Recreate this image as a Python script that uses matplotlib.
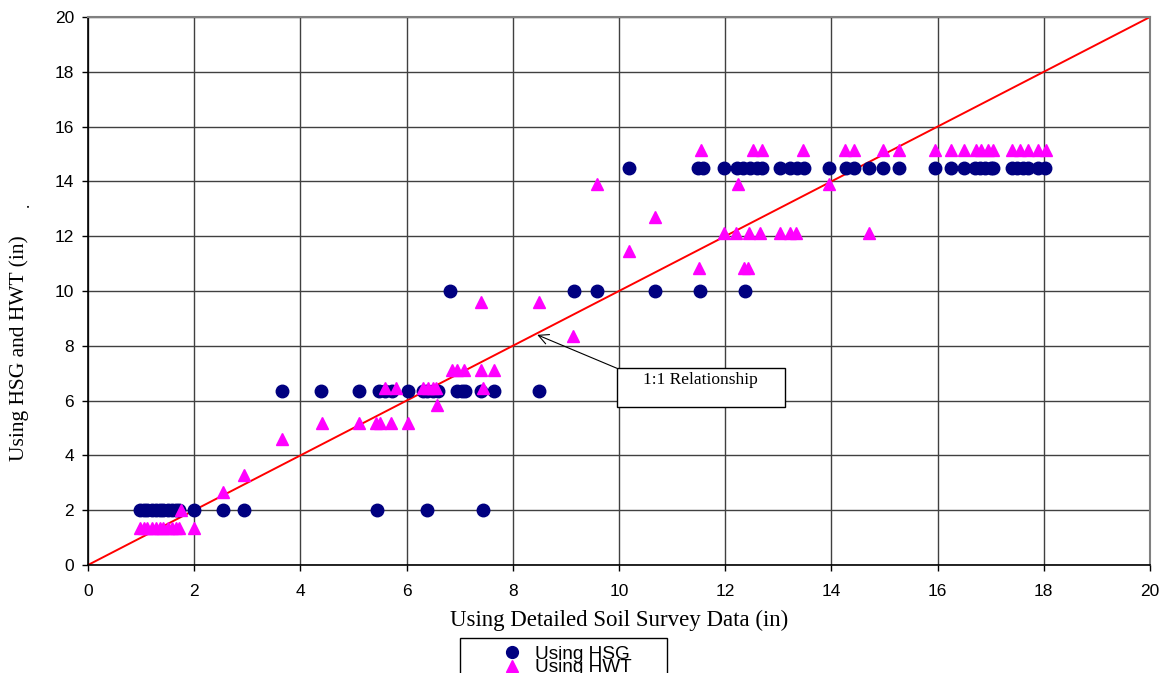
import numpy as np
import matplotlib
matplotlib.use("Agg")
import matplotlib.pyplot as plt
from matplotlib.patches import Rectangle
from matplotlib.lines import Line2D

# ── Data ────────────────────────────────────────────────────────────────
# Using HSG (circles): x = detailed soil survey, y = HSG estimate
hsg_x = [0.98, 1.05, 1.12, 1.2, 1.28, 1.35, 1.42, 1.5, 1.58, 1.65, 1.72,
         2.0, 2.54, 2.94, 5.44, 6.38, 7.43,
         3.65, 4.39, 5.1, 5.48, 5.6, 5.72, 6.02, 6.3, 6.38, 6.5, 6.6,
         6.95, 7.05, 7.1, 7.4, 7.65, 8.5,
         6.82, 9.15, 9.58, 10.68, 11.53, 12.38,
         10.19, 11.48, 11.58, 11.98, 12.22, 12.34, 12.47, 12.59, 12.69,
         13.03, 13.22, 13.35, 13.48, 13.96, 14.28, 14.43, 14.71, 14.98,
         15.27, 15.96, 16.25, 16.5, 16.7, 16.8, 16.9, 17.0, 17.05, 17.4,
         17.5, 17.6, 17.7, 17.9, 18.02]
hsg_y = [2.0] * 17 + [6.35] * 17 + [10.0] * 6 + [14.5] * 33

# Using HWT (triangles)
hwt_x = [0.98, 1.05, 1.12, 1.2, 1.28, 1.35, 1.42, 1.5, 1.58, 1.65, 1.72, 2.0,
         1.76, 2.54, 2.94, 3.65,
         4.4, 5.1, 5.42, 5.5, 5.7, 6.02,
         6.58,
         5.6, 5.8, 6.3, 6.4, 6.5, 6.55, 7.43,
         6.85, 6.95, 7.08, 7.4, 7.65,
         9.14,
         7.4, 8.5,
         11.51, 12.36, 12.42,
         10.19,
         11.98, 12.2, 12.45, 12.66, 13.03, 13.22, 13.33, 14.71,
         10.68,
         9.58, 12.25, 13.96,
         11.54, 12.53, 12.69, 13.47, 14.26, 14.43, 14.98, 15.27, 15.96,
         16.25, 16.5, 16.72, 16.82, 16.95, 17.05, 17.4, 17.55, 17.7, 17.9,
         18.05]
hwt_y = ([1.35] * 12 + [2.0, 2.65, 3.3, 4.6] + [5.2] * 6 + [5.85]
         + [6.45] * 7 + [7.1] * 5 + [8.35] + [9.6] * 2 + [10.85] * 3
         + [11.45] + [12.1] * 8 + [12.7] + [13.9] * 3 + [15.15] * 20)

one_to_one = [0, 20]
ticks = np.arange(0, 21, 2)

NAVY = "#000080"
MAGENTA = "#ff00ff"
GRID = "#404040"
W, H = 1171, 673

fig = plt.figure(figsize=(W / 100, H / 100), dpi=100, facecolor="white")
ax = fig.add_axes([88 / W, 1 - 565 / H, 1062 / W, 548 / H])

ax.plot(one_to_one, one_to_one, color="#ff0000", lw=1.4, zorder=2)
ax.plot(hsg_x, hsg_y, "o", color=NAVY, ms=9, mec=NAVY, ls="none", zorder=3)
ax.plot(hwt_x, hwt_y, "^", color=MAGENTA, ms=9, mec=MAGENTA, ls="none", zorder=4)

ax.set_xlim(0, 20)
ax.set_ylim(0, 20)
ax.set_xticks(ticks)
ax.set_yticks(ticks)
ax.grid(True, color=GRID, lw=1.0, zorder=0)
ax.set_axisbelow(True)
ax.tick_params(direction="out", length=4, width=1, labelsize=12.5,
               colors="black")
ax.tick_params(axis="x", pad=10)
ax.tick_params(axis="y", pad=6)
for lbl in ax.get_xticklabels() + ax.get_yticklabels():
    lbl.set_family("Liberation Sans")
for s in ("left", "bottom"):
    ax.spines[s].set_color("black")
    ax.spines[s].set_linewidth(1.2)
for s in ("top", "right"):
    ax.spines[s].set_color("#808080")
    ax.spines[s].set_linewidth(1.5)

# axis titles (serif, placed where the reference has them)
fig.text(619 / W, 1 - 620 / H, "Using Detailed Soil Survey Data (in)",
         family="Liberation Serif", fontsize=16.5, ha="center", va="center")
fig.text(19 / W, 1 - 348 / H, "Using HSG and HWT (in)", rotation=90,
         family="Liberation Serif", fontsize=15.5, ha="center", va="center")
fig.text(25 / W, 1 - 205 / H, ".", fontsize=12, ha="center", va="center",
         rotation=90, family="Liberation Serif")

# ── 1:1 annotation ──────────────────────────────────────────────────────
ax.add_patch(Rectangle((0.498, 0.288), 0.158, 0.071, transform=ax.transAxes,
                       facecolor="white", edgecolor="black", lw=1.0, zorder=5))
ax.text(0.577, 0.337, "1:1 Relationship", transform=ax.transAxes,
        family="Liberation Serif", fontsize=12.5, ha="center", va="center",
        zorder=6)
ax.annotate("", xy=(8.46, 8.4), xytext=(0.498, 0.359),
            textcoords="axes fraction",
            arrowprops=dict(arrowstyle="->", color="black", lw=0.8,
                            mutation_scale=18, shrinkA=0, shrinkB=0),
            zorder=6)

# ── Legend (box runs off the bottom edge) ───────────────────────────────
fig.patches.append(Rectangle((460 / W, -0.05), 207 / W,
                             0.05 + 1 - 638 / H, transform=fig.transFigure,
                             facecolor="white", edgecolor="black", lw=1.0))
handles = [Line2D([], [], marker="o", color=NAVY, ls="none", ms=8.5),
           Line2D([], [], marker="^", color=MAGENTA, ls="none", ms=9)]
fig.legend(handles, ["Using HSG", "Using HWT"], loc="upper center",
           bbox_to_anchor=(566 / W, 1 - 636 / H), frameon=False,
           prop={"family": "Liberation Sans", "size": 13.7},
           labelspacing=-0.2, handletextpad=0.6, borderpad=0, handlelength=1.2)

fig.savefig("out.png", dpi=100, facecolor="white")
